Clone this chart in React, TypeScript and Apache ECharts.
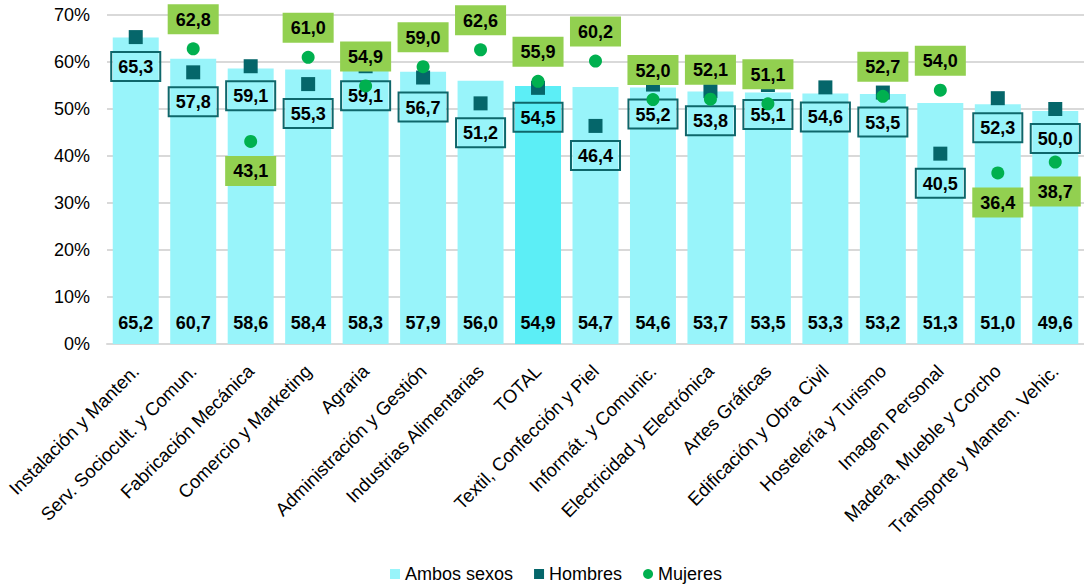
import React, { useEffect, useRef } from "react";
import * as echarts from "echarts";

const categories = [
  "Instalación y Manten.",
  "Serv. Sociocult. y Comun.",
  "Fabricación Mecánica",
  "Comercio y Marketing",
  "Agraria",
  "Administración y Gestión",
  "Industrias Alimentarias",
  "TOTAL",
  "Textil, Confección y Piel",
  "Informát. y Comunic.",
  "Electricidad y Electrónica",
  "Artes Gráficas",
  "Edificación y Obra Civil",
  "Hostelería y Turismo",
  "Imagen Personal",
  "Madera, Mueble y Corcho",
  "Transporte y Manten. Vehic.",
];

const ambosSexos = [65.2, 60.7, 58.6, 58.4, 58.3, 57.9, 56.0, 54.9, 54.7, 54.6, 53.7, 53.5, 53.3, 53.2, 51.3, 51.0, 49.6];
const hombres = [65.3, 57.8, 59.1, 55.3, 59.1, 56.7, 51.2, 54.5, 46.4, 55.2, 53.8, 55.1, 54.6, 53.5, 40.5, 52.3, 50.0];
const mujeres: (number | null)[] = [null, 62.8, 43.1, 61.0, 54.9, 59.0, 62.6, 55.9, 60.2, 52.0, 52.1, 51.1, null, 52.7, 54.0, 36.4, 38.7];

const yTicks = { min: 0, max: 70, interval: 10 };
const totalCategory = "TOTAL";
const mujeresLabelBelow = ["Fabricación Mecánica", "Madera, Mueble y Corcho", "Transporte y Manten. Vehic."];

const fmt = (v: number) => v.toFixed(1).replace(".", ",");
const FONT = "'Liberation Sans', Arial, sans-serif";

export default function App() {
  const ref = useRef<HTMLDivElement>(null);
  useEffect(() => {
    if (!ref.current) return;
    const chart = echarts.init(ref.current, undefined, { renderer: "svg" });
    chart.setOption({
      animation: false,
      textStyle: { fontFamily: FONT },
      grid: { left: 107, right: 0, top: 15, bottom: 240, containLabel: false },
      legend: {
        left: 385,
        top: 560,
        itemWidth: 10,
        itemHeight: 10,
        itemGap: 21,
        textStyle: { fontSize: 18, color: "#000", fontFamily: FONT },
        data: [
          { name: "Ambos sexos", icon: "rect" },
          { name: "Hombres", icon: "rect" },
          { name: "Mujeres", icon: "circle" },
        ],
      },
      xAxis: {
        type: "category",
        data: categories,
        axisTick: { show: false },
        axisLine: { lineStyle: { color: "#D9D9D9", width: 2 } },
        axisLabel: {
          interval: 0,
          rotate: 45,
          fontSize: 18.5,
          color: "#000",
          margin: 24,
          fontFamily: FONT,
        },
      },
      yAxis: {
        type: "value",
        min: yTicks.min,
        max: yTicks.max,
        interval: yTicks.interval,
        axisLine: { show: false },
        axisTick: { show: false },
        splitLine: { lineStyle: { color: "#D9D9D9", width: 2 } },
        axisLabel: {
          formatter: "{value}%",
          fontSize: 18,
          color: "#000",
          margin: 17,
          fontFamily: FONT,
        },
      },
      series: [
        {
          name: "Ambos sexos",
          type: "bar",
          barCategoryGap: "20%",
          itemStyle: { color: "#98F4FA" },
          data: ambosSexos.map((v, i) =>
            categories[i] === totalCategory ? { value: v, itemStyle: { color: "#5CEEF6" } } : v
          ),
          label: {
            show: true,
            position: "insideBottom",
            distance: 12,
            formatter: (p: any) => fmt(p.value),
            fontSize: 18,
            fontWeight: "bold",
            color: "#000",
            fontFamily: FONT,
          },
          z: 2,
        },
        {
          name: "Hombres",
          type: "scatter",
          symbol: "rect",
          symbolSize: 14,
          itemStyle: { color: "#05666A", opacity: 1 },
          data: hombres,
          label: {
            show: true,
            position: "bottom",
            distance: 8,
            formatter: (p: any) => fmt(p.value),
            fontSize: 18,
            fontWeight: "bold",
            color: "#000",
            fontFamily: FONT,
            borderColor: "#0E676B",
            borderWidth: 2,
            padding: [5, 7, 4, 7],
            lineHeight: 20,
          },
          z: 3,
        },
        {
          name: "Mujeres",
          type: "scatter",
          symbol: "circle",
          symbolSize: 13,
          itemStyle: { color: "#00B04F", opacity: 1 },
          data: mujeres.map((v, i) =>
            v === null
              ? "-"
              : mujeresLabelBelow.includes(categories[i])
              ? { value: v, label: { position: "bottom" } }
              : v
          ),
          label: {
            show: true,
            position: "top",
            distance: 8,
            formatter: (p: any) => fmt(p.value),
            fontSize: 18,
            fontWeight: "bold",
            color: "#000",
            fontFamily: FONT,
            backgroundColor: "#92D050",
            padding: [5, 8, 4, 8],
            lineHeight: 21,
          },
          z: 4,
        },
      ],
    });
    return () => chart.dispose();
  }, []);
  return (
    <div
      ref={ref}
      style={{ position: "fixed", left: 0, top: 0, width: 1084, height: 584, background: "#fff" }}
    />
  );
}
